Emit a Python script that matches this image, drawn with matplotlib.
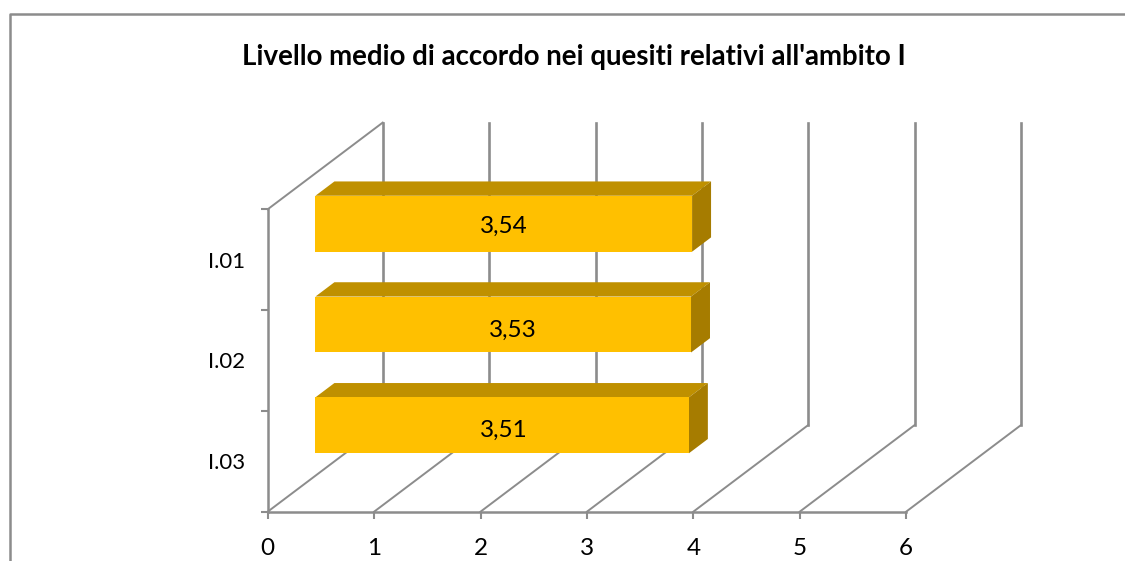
import matplotlib
matplotlib.use("Agg")
import matplotlib.pyplot as plt
from matplotlib.lines import Line2D
from matplotlib.patches import Polygon

plt.rcParams['font.family'] = ['Lato', 'DejaVu Sans']

title = "Livello medio di accordo nei quesiti relativi all'ambito I"
categories = ["I.01", "I.02", "I.03"]
values = [3.54, 3.53, 3.51]
value_labels = ["3,54", "3,53", "3,51"]
x_ticks = [0, 1, 2, 3, 4, 5, 6]

# geometria in pixel del riferimento
W, H = 1125, 561
X0, PX_UNIT = 267.7, 106.4
Y0, PX_CAT = 511.7, 100.8
DEPTH_X = 115.0 / PX_UNIT
DEPTH_Y = 86.7 / PX_CAT

GRID = "#8c8c8c"
FRONT = "#FFC000"
TOP = "#BF9000"
SIDE = "#A67C00"

# la barra occupa il 55% della categoria e parte dal 41% della profondita
BAR_H = 0.555
D1, D2 = 0.415, 0.58


def proj(v, c, d):
    return v + d * DEPTH_X, c + d * DEPTH_Y


fig = plt.figure(figsize=(W / 100, H / 100), dpi=100)
ax = fig.add_axes([0, 0, 1, 1])
ax.set_xlim(-X0 / PX_UNIT, (W - X0) / PX_UNIT)
ax.set_ylim(-(H - Y0) / PX_CAT, Y0 / PX_CAT)

for s in ["top", "right"]:
    ax.spines[s].set_visible(False)
ax.spines["bottom"].set_position(("data", 0))
ax.spines["left"].set_position(("data", 0))
ax.spines["bottom"].set_bounds(0, 6)
ax.spines["left"].set_bounds(0, 3)
for s in ["bottom", "left"]:
    ax.spines[s].set_color(GRID)
    ax.spines[s].set_linewidth(1.8)
    ax.spines[s].set_zorder(1)

ax.set_xticks(x_ticks)
ax.set_xticklabels([str(t) for t in x_ticks], fontsize=17.5)
ax.tick_params(axis="x", length=5, width=1.5, color=GRID, pad=14)
n = len(categories)
ax.set_yticks(range(n + 1))
ax.set_yticklabels([""] * (n + 1))
ax.set_yticks([n - i - 0.5 for i in range(n)], minor=True)
ax.set_yticklabels(categories, minor=True, fontsize=16, ha="left")
ax.tick_params(axis="y", which="major", length=5, width=1.5, color=GRID)
ax.tick_params(axis="y", which="minor", length=0, pad=43)
ax.patch.set_alpha(0)

# pareti e pavimento
for t in x_ticks:
    bx, by = proj(t, 0, 1)
    tx, ty = proj(t, n, 1)
    ax.plot([t, bx], [0, by], color=GRID, lw=1.4, zorder=1, clip_on=False)
    ax.plot([bx, tx], [by, ty], color=GRID, lw=1.9, zorder=1, clip_on=False)
tx, ty = proj(0, n, 1)
ax.plot([0, tx], [n, ty], color=GRID, lw=1.4, zorder=1)

# spostamento a mano delle etichette, come nell'originale
label_off = [(0, -2), (7, -4), (1, -3.5)]

for i, v in enumerate(values):
    c = n - i - 0.5
    lo, hi = c - BAR_H / 2, c + BAR_H / 2
    front = [proj(0, lo, D1), proj(v, lo, D1), proj(v, hi, D1), proj(0, hi, D1)]
    top = [proj(0, hi, D1), proj(v, hi, D1), proj(v, hi, D2), proj(0, hi, D2)]
    side = [proj(v, lo, D1), proj(v, lo, D2), proj(v, hi, D2), proj(v, hi, D1)]
    ax.add_patch(Polygon(top, facecolor=TOP, edgecolor="none", zorder=3))
    ax.add_patch(Polygon(side, facecolor=SIDE, edgecolor="none", zorder=3))
    ax.add_patch(Polygon(front, facecolor=FRONT, edgecolor="none", zorder=4))
    cx, cy = proj(v / 2, c, D1)
    ax.annotate(value_labels[i], (cx, cy), xytext=label_off[i], textcoords="offset points",
                ha="center", va="center", fontsize=17.5, color="black", zorder=5)

fig.text(573.5 / W, 1 - 57 / H, title, ha="center", va="center", fontsize=19.9, fontweight="bold")

# cornice del grafico, tagliata a destra e in basso
fig.add_artist(Line2D([9.5 / W, 9.5 / W, 1], [0, 1 - 14 / H, 1 - 14 / H], color=GRID, lw=1.8))

fig.savefig("out.png", dpi=100)
